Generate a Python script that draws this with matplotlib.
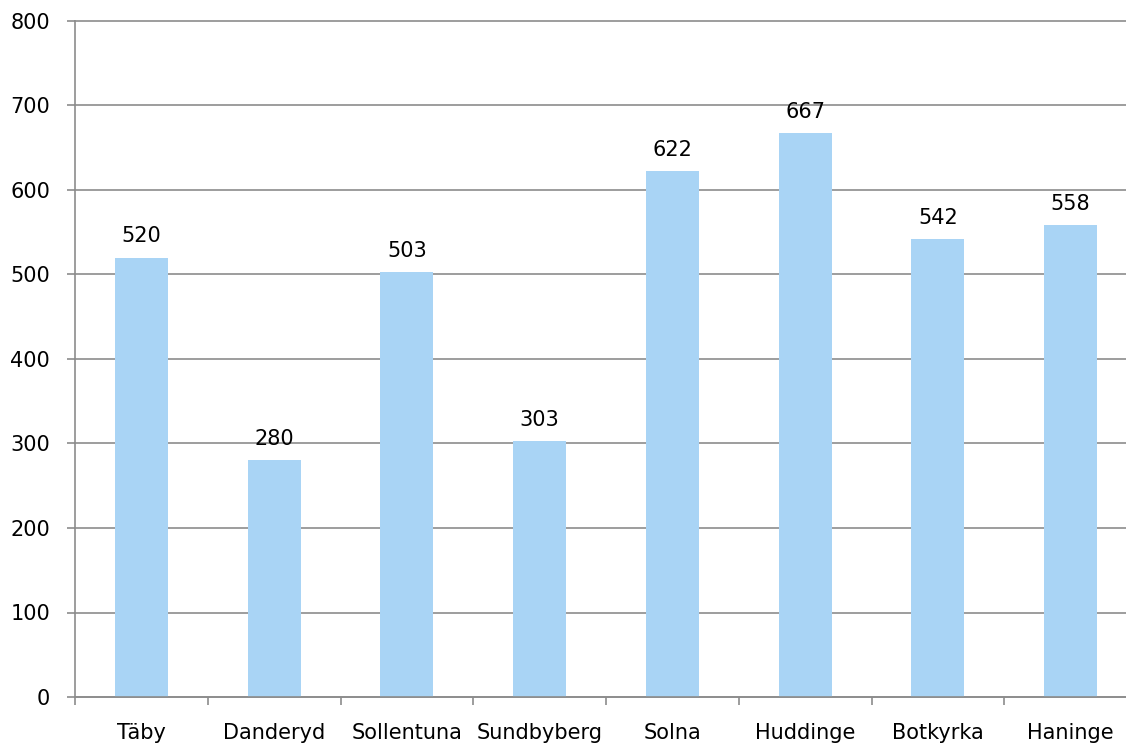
import matplotlib
matplotlib.use("Agg")
from matplotlib import pyplot as plt
import numpy as np

kommuner = ["Täby", "Danderyd", "Sollentuna", "Sundbyberg", "Solna",
            "Huddinge", "Botkyrka", "Haninge"]
antal = [520, 280, 503, 303, 622, 667, 542, 558]
yticks = [0, 100, 200, 300, 400, 500, 600, 700, 800]

W, H = 1126, 746
fig = plt.figure(figsize=(W / 100, H / 100), dpi=100)
# plot area runs past the right edge of the picture, like the original
left, right, top, bottom = 75, 1137, 21, 697
ax = fig.add_axes([left / W, 1 - bottom / H, (right - left) / W, (bottom - top) / H])

grid = "#8c8c8c"
fs = 15
x = np.arange(len(kommuner))
ax.bar(x, antal, width=0.4, color="#a9d4f5", zorder=2)

for xi, v in zip(x, antal):
    ax.annotate(str(v), (xi, v), xytext=(0, 8), textcoords="offset points",
                ha="center", va="bottom", fontsize=fs, color="black")

ax.set_xlim(-0.5, len(kommuner) - 0.5)
ax.set_ylim(0, 800)
ax.set_yticks(yticks)
ax.yaxis.grid(True, color=grid, linewidth=1.2, zorder=0)
for gl in ax.get_ygridlines():
    gl.set_clip_on(False)
ax.set_axisbelow(True)

ax.set_xticks(np.arange(len(kommuner) + 1) - 0.5)
ax.set_xticklabels([])
ax.set_xticks(x, minor=True)
ax.set_xticklabels(kommuner, minor=True, fontsize=fs)
ax.tick_params(axis="x", which="minor", length=0, pad=19)
ax.tick_params(axis="x", which="major", length=6, width=1.2, color=grid, direction="out")
ax.tick_params(axis="y", length=6, width=1.2, color=grid, pad=12, labelsize=fs)

for s in ["top", "right"]:
    ax.spines[s].set_visible(False)
for s in ["left", "bottom"]:
    ax.spines[s].set_color(grid)
    ax.spines[s].set_linewidth(1.2)

fig.savefig("out.png", dpi=100)
